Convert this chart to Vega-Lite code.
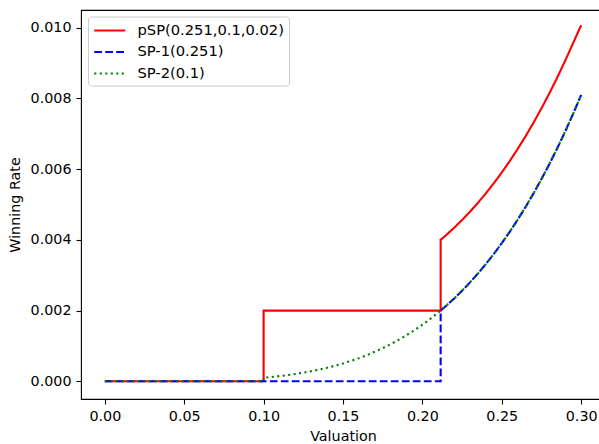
{
  "$schema": "https://vega.github.io/schema/vega-lite/v6.json",
  "width": 524,
  "height": 389,
  "autosize": {"type": "none"},
  "padding": {"left": 81, "top": 10, "right": 0, "bottom": 45},
  "background": "white",
  "config": {
    "font": "DejaVu Sans",
    "view": {"stroke": "#000000", "strokeWidth": 1.1},
    "axis": {
      "grid": false,
      "domain": false,
      "tickColor": "#000000",
      "tickSize": 5,
      "tickWidth": 1.1,
      "labelColor": "#000000",
      "labelFontSize": 14.3,
      "labelFont": "DejaVu Sans",
      "labelPadding": 5,
      "titleFont": "DejaVu Sans",
      "titleFontSize": 14.3,
      "titleFontWeight": "normal",
      "titleColor": "#000000"
    },
    "legend": {
      "orient": "none",
      "legendX": 7,
      "legendY": 6.5,
      "fillColor": "white",
      "strokeColor": "#cccccc",
      "cornerRadius": 3,
      "padding": 5,
      "symbolType": "M-1,0H3",
      "symbolSize": 240,
      "symbolStrokeWidth": 2.1,
      "labelFontSize": 14.7,
      "labelFont": "DejaVu Sans",
      "labelColor": "#000000",
      "labelOffset": 26.5,
      "labelLimit": 400,
      "rowPadding": 5.5
    }
  },
  "data": {
    "values": [
      {"s": "pSP(0.251,0.1,0.02)", "i": 0, "x": 0, "y": 0},
      {"s": "pSP(0.251,0.1,0.02)", "i": 1, "x": 0.1, "y": 0},
      {"s": "pSP(0.251,0.1,0.02)", "i": 2, "x": 0.1, "y": 0.002},
      {"s": "pSP(0.251,0.1,0.02)", "i": 3, "x": 0.2115, "y": 0.002},
      {"s": "pSP(0.251,0.1,0.02)", "i": 4, "x": 0.2115, "y": 0.004001},
      {"s": "pSP(0.251,0.1,0.02)", "i": 5, "x": 0.215, "y": 0.00413675},
      {"s": "pSP(0.251,0.1,0.02)", "i": 6, "x": 0.22, "y": 0.00434256},
      {"s": "pSP(0.251,0.1,0.02)", "i": 7, "x": 0.225, "y": 0.00456289},
      {"s": "pSP(0.251,0.1,0.02)", "i": 8, "x": 0.23, "y": 0.00479841},
      {"s": "pSP(0.251,0.1,0.02)", "i": 9, "x": 0.235, "y": 0.0050498},
      {"s": "pSP(0.251,0.1,0.02)", "i": 10, "x": 0.24, "y": 0.00531776},
      {"s": "pSP(0.251,0.1,0.02)", "i": 11, "x": 0.245, "y": 0.005603},
      {"s": "pSP(0.251,0.1,0.02)", "i": 12, "x": 0.25, "y": 0.00590625},
      {"s": "pSP(0.251,0.1,0.02)", "i": 13, "x": 0.255, "y": 0.00622825},
      {"s": "pSP(0.251,0.1,0.02)", "i": 14, "x": 0.26, "y": 0.00656976},
      {"s": "pSP(0.251,0.1,0.02)", "i": 15, "x": 0.265, "y": 0.00693155},
      {"s": "pSP(0.251,0.1,0.02)", "i": 16, "x": 0.27, "y": 0.00731441},
      {"s": "pSP(0.251,0.1,0.02)", "i": 17, "x": 0.275, "y": 0.00771914},
      {"s": "pSP(0.251,0.1,0.02)", "i": 18, "x": 0.28, "y": 0.00814656},
      {"s": "pSP(0.251,0.1,0.02)", "i": 19, "x": 0.285, "y": 0.0085975},
      {"s": "pSP(0.251,0.1,0.02)", "i": 20, "x": 0.29, "y": 0.00907281},
      {"s": "pSP(0.251,0.1,0.02)", "i": 21, "x": 0.295, "y": 0.00957335},
      {"s": "pSP(0.251,0.1,0.02)", "i": 22, "x": 0.3, "y": 0.01007},

      {"s": "SP-1(0.251)", "i": 0, "x": 0, "y": 0},
      {"s": "SP-1(0.251)", "i": 1, "x": 0.2115, "y": 0},
      {"s": "SP-1(0.251)", "i": 2, "x": 0.2115, "y": 0.002001},
      {"s": "SP-1(0.251)", "i": 3, "x": 0.215, "y": 0.00213675},
      {"s": "SP-1(0.251)", "i": 4, "x": 0.22, "y": 0.00234256},
      {"s": "SP-1(0.251)", "i": 5, "x": 0.225, "y": 0.00256289},
      {"s": "SP-1(0.251)", "i": 6, "x": 0.23, "y": 0.00279841},
      {"s": "SP-1(0.251)", "i": 7, "x": 0.235, "y": 0.0030498},
      {"s": "SP-1(0.251)", "i": 8, "x": 0.24, "y": 0.00331776},
      {"s": "SP-1(0.251)", "i": 9, "x": 0.245, "y": 0.003603},
      {"s": "SP-1(0.251)", "i": 10, "x": 0.25, "y": 0.00390625},
      {"s": "SP-1(0.251)", "i": 11, "x": 0.255, "y": 0.00422825},
      {"s": "SP-1(0.251)", "i": 12, "x": 0.26, "y": 0.00456976},
      {"s": "SP-1(0.251)", "i": 13, "x": 0.265, "y": 0.00493155},
      {"s": "SP-1(0.251)", "i": 14, "x": 0.27, "y": 0.00531441},
      {"s": "SP-1(0.251)", "i": 15, "x": 0.275, "y": 0.00571914},
      {"s": "SP-1(0.251)", "i": 16, "x": 0.28, "y": 0.00614656},
      {"s": "SP-1(0.251)", "i": 17, "x": 0.285, "y": 0.0065975},
      {"s": "SP-1(0.251)", "i": 18, "x": 0.29, "y": 0.00707281},
      {"s": "SP-1(0.251)", "i": 19, "x": 0.295, "y": 0.00757335},
      {"s": "SP-1(0.251)", "i": 20, "x": 0.3, "y": 0.0081},

      {"s": "SP-2(0.1)", "i": 0, "x": 0, "y": 0},
      {"s": "SP-2(0.1)", "i": 1, "x": 0.1, "y": 0},
      {"s": "SP-2(0.1)", "i": 2, "x": 0.1, "y": 0.0001},
      {"s": "SP-2(0.1)", "i": 3, "x": 0.105, "y": 0.00012155},
      {"s": "SP-2(0.1)", "i": 4, "x": 0.11, "y": 0.00014641},
      {"s": "SP-2(0.1)", "i": 5, "x": 0.115, "y": 0.0001749},
      {"s": "SP-2(0.1)", "i": 6, "x": 0.12, "y": 0.00020736},
      {"s": "SP-2(0.1)", "i": 7, "x": 0.125, "y": 0.00024414},
      {"s": "SP-2(0.1)", "i": 8, "x": 0.13, "y": 0.00028561},
      {"s": "SP-2(0.1)", "i": 9, "x": 0.135, "y": 0.00033215},
      {"s": "SP-2(0.1)", "i": 10, "x": 0.14, "y": 0.00038416},
      {"s": "SP-2(0.1)", "i": 11, "x": 0.145, "y": 0.00044205},
      {"s": "SP-2(0.1)", "i": 12, "x": 0.15, "y": 0.00050625},
      {"s": "SP-2(0.1)", "i": 13, "x": 0.155, "y": 0.0005772},
      {"s": "SP-2(0.1)", "i": 14, "x": 0.16, "y": 0.00065536},
      {"s": "SP-2(0.1)", "i": 15, "x": 0.165, "y": 0.0007412},
      {"s": "SP-2(0.1)", "i": 16, "x": 0.17, "y": 0.00083521},
      {"s": "SP-2(0.1)", "i": 17, "x": 0.175, "y": 0.00093789},
      {"s": "SP-2(0.1)", "i": 18, "x": 0.18, "y": 0.00104976},
      {"s": "SP-2(0.1)", "i": 19, "x": 0.185, "y": 0.00117135},
      {"s": "SP-2(0.1)", "i": 20, "x": 0.19, "y": 0.00130321},
      {"s": "SP-2(0.1)", "i": 21, "x": 0.195, "y": 0.0014459},
      {"s": "SP-2(0.1)", "i": 22, "x": 0.2, "y": 0.0016},
      {"s": "SP-2(0.1)", "i": 23, "x": 0.205, "y": 0.0017661},
      {"s": "SP-2(0.1)", "i": 24, "x": 0.21, "y": 0.00194481},
      {"s": "SP-2(0.1)", "i": 25, "x": 0.215, "y": 0.00213675},
      {"s": "SP-2(0.1)", "i": 26, "x": 0.22, "y": 0.00234256},
      {"s": "SP-2(0.1)", "i": 27, "x": 0.225, "y": 0.00256289},
      {"s": "SP-2(0.1)", "i": 28, "x": 0.23, "y": 0.00279841},
      {"s": "SP-2(0.1)", "i": 29, "x": 0.235, "y": 0.0030498},
      {"s": "SP-2(0.1)", "i": 30, "x": 0.24, "y": 0.00331776},
      {"s": "SP-2(0.1)", "i": 31, "x": 0.245, "y": 0.003603},
      {"s": "SP-2(0.1)", "i": 32, "x": 0.25, "y": 0.00390625},
      {"s": "SP-2(0.1)", "i": 33, "x": 0.255, "y": 0.00422825},
      {"s": "SP-2(0.1)", "i": 34, "x": 0.26, "y": 0.00456976},
      {"s": "SP-2(0.1)", "i": 35, "x": 0.265, "y": 0.00493155},
      {"s": "SP-2(0.1)", "i": 36, "x": 0.27, "y": 0.00531441},
      {"s": "SP-2(0.1)", "i": 37, "x": 0.275, "y": 0.00571914},
      {"s": "SP-2(0.1)", "i": 38, "x": 0.28, "y": 0.00614656},
      {"s": "SP-2(0.1)", "i": 39, "x": 0.285, "y": 0.0065975},
      {"s": "SP-2(0.1)", "i": 40, "x": 0.29, "y": 0.00707281},
      {"s": "SP-2(0.1)", "i": 41, "x": 0.295, "y": 0.00757335},
      {"s": "SP-2(0.1)", "i": 42, "x": 0.3, "y": 0.0081}
    ]
  },
  "mark": {"type": "line", "strokeWidth": 2.1, "clip": true},
  "encoding": {
    "x": {
      "field": "x",
      "type": "quantitative",
      "title": "Valuation",
      "scale": {"domain": [-0.015, 0.315], "nice": false, "zero": false},
      "axis": {"values": [0, 0.05, 0.1, 0.15, 0.2, 0.25, 0.3], "format": ".2f", "titlePadding": 6}
    },
    "y": {
      "field": "y",
      "type": "quantitative",
      "title": "Winning Rate",
      "scale": {"domain": [-0.0005, 0.0105], "nice": false, "zero": false},
      "axis": {"values": [0, 0.002, 0.004, 0.006, 0.008, 0.01], "format": ".3f", "titlePadding": 8}
    },
    "order": {"field": "i", "type": "quantitative"},
    "color": {
      "field": "s",
      "type": "nominal",
      "title": null,
      "scale": {"domain": ["pSP(0.251,0.1,0.02)", "SP-1(0.251)", "SP-2(0.1)"], "range": ["#ff0000", "#0000ff", "#008000"]}
    },
    "strokeDash": {
      "field": "s",
      "type": "nominal",
      "title": null,
      "scale": {"domain": ["pSP(0.251,0.1,0.02)", "SP-1(0.251)", "SP-2(0.1)"], "range": [[1, 0], [7.7, 3.3], [2.1, 3.4]]}
    }
  }
}
